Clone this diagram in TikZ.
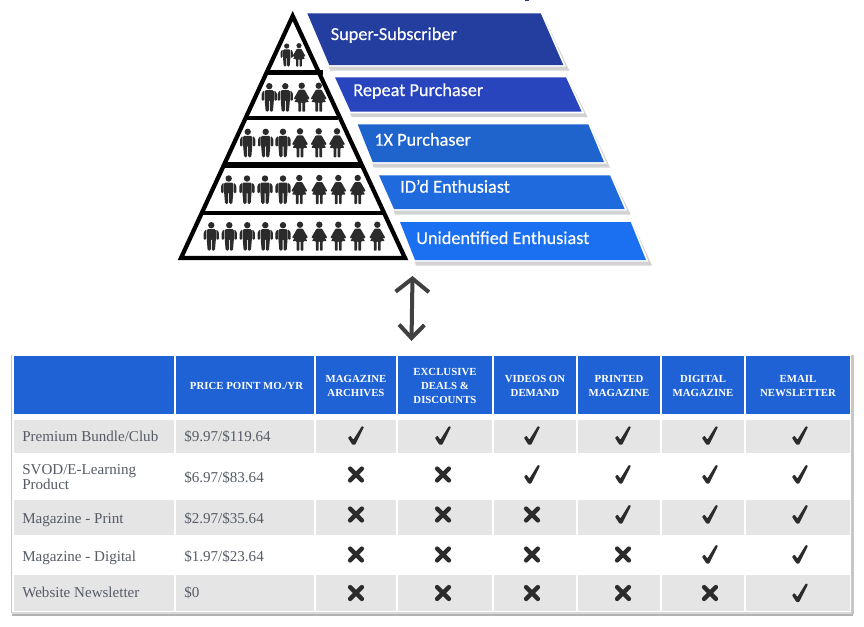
\documentclass[tikz,border=0pt]{standalone}
\usepackage{fontspec}
\setmainfont{Liberation Serif}
\newfontfamily\barfont[FakeBold=0.25]{Carlito}
\usetikzlibrary{arrows.meta,calc}
\definecolor{iconc}{HTML}{2B2B2B}
\definecolor{headc}{HTML}{1F62D5}
\definecolor{rowc}{HTML}{E5E5E5}
\definecolor{txtc}{HTML}{565C66}
\tikzset{
  x=0.75pt,y=-0.75pt,
  pyr/.style={line width=3.2pt,black,line join=miter},
  bartxt/.style={anchor=base west,inner sep=0,text=white,font=\barfont\fontsize{13.7}{15}\selectfont},
  celltxt/.style={anchor=base west,inner sep=0,text=txtc,font=\fontsize{11.3}{11.8}\selectfont,align=left},
  headtxt/.style={inner sep=0,text=white,align=center,font=\bfseries\fontsize{8.1}{10.5}\selectfont},
  man/.pic={
    \fill[iconc] (0,-25.5) circle (3.2);
    \fill[iconc,rounded corners=1pt] (-4.6,-21.5) -- (4.6,-21.5) -- (4.6,-12) -- (3.6,0) -- (0.5,0) -- (0.5,-12) -- (-0.5,-12) -- (-0.5,0) -- (-3.6,0) -- (-4.6,-12) -- cycle;
    \fill[iconc,rounded corners=0.7pt] (-5.1,-21.5) -- (-7.6,-18.5) -- (-7.6,-11) -- (-5.1,-11) -- cycle;
    \fill[iconc,rounded corners=0.7pt] (5.1,-21.5) -- (7.6,-18.5) -- (7.6,-11) -- (5.1,-11) -- cycle;
  },
  woman/.pic={
    \fill[iconc] (0,-26) circle (3.2);
    \fill[iconc,rounded corners=0.6pt] (-2.8,-22) -- (2.8,-22) -- (8,-13) -- (6.4,-12) -- (3.8,-15.5) -- (7.4,-9.5) -- (3.4,-9.5) -- (3.4,0) -- (0.7,0) -- (0.7,-9.5) -- (-0.7,-9.5) -- (-0.7,0) -- (-3.4,0) -- (-3.4,-9.5) -- (-7.4,-9.5) -- (-3.8,-15.5) -- (-6.4,-12) -- (-8,-13) -- cycle;
  },
  yes/.pic={\fill[iconc,rounded corners=0.5pt] (-8,2.2) -- (-5.6,0) -- (-2.6,4) -- (5.8,-9.5) -- (8,-8.8) -- (-0.8,9) -- (-3.6,9) -- cycle;},
  no/.pic={\draw[iconc,line width=3.3pt,line cap=round] (-5.9,-5.9) -- (5.9,5.9) (-5.9,5.9) -- (5.9,-5.9);},
}
\newcommand{\pyrbar}[6]{%
  \fill[black!35,opacity=.5] ($#1+(1,3)$) -- ($#2+(3,3)$) -- ($#3+(6,5.5)$) -- ($#4+(1,5.5)$) -- cycle;
  \draw[white,line width=2.6pt,line join=miter] #1 -- #2 -- #3 -- #4 -- cycle;
  \fill[#5] #1 -- #2 -- #3 -- #4 -- cycle;
}
\definecolor{b1}{HTML}{233E9E}
\definecolor{b2}{HTML}{2845BE}
\definecolor{b3}{HTML}{1E64CC}
\definecolor{b4}{HTML}{1F6BDD}
\definecolor{b5}{HTML}{1A70F0}
\begin{document}
\begin{tikzpicture}
\useasboundingbox (0,0) rectangle (864,626);
\fill[white] (0,0) rectangle (864,626);
\fill[b1] (525,0) rectangle (529,1);

% people
\pic[scale=0.81] at (286.7,66.7) {man};
\pic[scale=0.81] at (299,66.7) {woman};
\foreach \xx in {269.3,285.3}{\pic at (\xx,111.7) {man};}
\foreach \xx in {301.7,318.7}{\pic at (\xx,111.7) {woman};}
\foreach \xx in {247.7,265.7,283}{\pic at (\xx,157.3) {man};}
\foreach \xx in {300,318.7,337}{\pic at (\xx,157.3) {woman};}
\foreach \xx in {228.7,247,265,283}{\pic at (\xx,204) {man};}
\foreach \xx in {299.3,319.3,338.3,357.7}{\pic at (\xx,204) {woman};}
\foreach \xx in {211.3,229.3,247.3,265.3,283}{\pic at (\xx,250.7) {man};}
\foreach \xx in {300,319.3,338.3,357.7,377.3}{\pic at (\xx,250.7) {woman};}

% pyramid
\draw[pyr] (292.7,16) -- (405,258) -- (181,258) -- cycle;
\draw[black,line width=3.8pt] (266,72.7) -- (323,72.7);
\draw[black,line width=3.2pt] (247,118) -- (338,118);
\draw[black,line width=3.8pt] (225,165) -- (362,165);
\draw[black,line width=3.2pt] (203,213) -- (383,213);

% bars
\pyrbar{(307.3,13.3)}{(540.7,13.3)}{(563.3,65)}{(329.3,65)}{b1}{s1}
\pyrbar{(335,77.3)}{(566,77.3)}{(581.7,111.7)}{(350.7,111.7)}{b2}{s2}
\pyrbar{(357.7,124.3)}{(588.3,124.3)}{(604,162)}{(372.7,162)}{b3}{s3}
\pyrbar{(379,175.3)}{(610,175.3)}{(624.7,209)}{(394,209)}{b4}{s4}
\pyrbar{(400,222)}{(630.7,222)}{(646,260)}{(415,260)}{b5}{s5}
\node[bartxt] (l1) at (330.5,40) {Super-Subscriber};
\node[bartxt] (l2) at (353,96) {Repeat Purchaser};
\node[bartxt] (l3) at (374,145.7) {1X Purchaser};
\node[bartxt] (l4) at (400,192.7) {ID’d Enthusiast};
\node[bartxt] (l5) at (416,244) {Unidentified Enthusiast};

% double arrow
\coordinate (up) at (412.5,276);
\coordinate (dn) at (411.5,341);
\draw[draw=iconc!90!white,line width=3pt,
  {Straight Barb[length=10pt,width=25pt,line width=3pt]}-{Straight Barb[length=10pt,width=19pt,line width=3pt]}] (up) -- (dn);

% table frame
\fill[black!30] (12,614) rectangle (853,616);
\fill[black!15] (12,612) rectangle (853,614);
\fill[black!22] (851,355) rectangle (853.5,614);
\fill[black!22] (11,355) rectangle (12.3,613);
% header
\foreach \a/\b in {14/174,176/314,316/396,398/492,494/576,578/660,662/744,746/850}{
  \fill[headc] (\a,355.7) rectangle (\b,413.7);
  \fill[rowc] (\a,420) rectangle (\b,453.3);
  \fill[rowc] (\a,500) rectangle (\b,535.3);
  \fill[rowc] (\a,575) rectangle (\b,610.7);
}
\node[headtxt] (h1) at (246.5,386) {PRICE POINT MO./YR};
\node[headtxt] (h2) at (356,386) {MAGAZINE\\ARCHIVES};
\node[headtxt] (h3) at (445,386) {EXCLUSIVE\\DEALS \&\\DISCOUNTS};
\node[headtxt] (h4) at (535,386) {VIDEOS ON\\DEMAND};
\node[headtxt] (h5) at (619,386) {PRINTED\\MAGAZINE};
\node[headtxt] (h6) at (703,386) {DIGITAL\\MAGAZINE};
\node[headtxt] (h7) at (798,386) {EMAIL\\NEWSLETTER};
% rows
\node[celltxt] (r1) at (22,441.7) {Premium Bundle/Club};
\node[celltxt] (p1) at (184,441.7) {\$9.97/\$119.64};
\node[celltxt,anchor=west] (r2) at (22,477) {SVOD/E-Learning\\Product};
\node[celltxt] (p2) at (184,482) {\$6.97/\$83.64};
\node[celltxt] (r3) at (22,523) {Magazine - Print};
\node[celltxt] (p3) at (184,523) {\$2.97/\$35.64};
\node[celltxt] (r4) at (22,561) {Magazine - Digital};
\node[celltxt] (p4) at (184,561) {\$1.97/\$23.64};
\node[celltxt] (r5) at (22,597.7) {Website Newsletter};
\node[celltxt] (p5) at (184,597.7) {\$0};
% marks
\foreach \xx/\a/\b/\c/\d/\e in {356/yes/no/no/no/no,443/yes/no/no/no/no,532/yes/yes/no/no/no,623/yes/yes/yes/no/no,710/yes/yes/yes/yes/no,800/yes/yes/yes/yes/yes}{
  \pic at (\xx,435.7) {\a};
  \pic at (\xx,474.5) {\b};
  \pic at (\xx,514.5) {\c};
  \pic at (\xx,554.5) {\d};
  \pic at (\xx,593) {\e};
}
\end{tikzpicture}
\end{document}
